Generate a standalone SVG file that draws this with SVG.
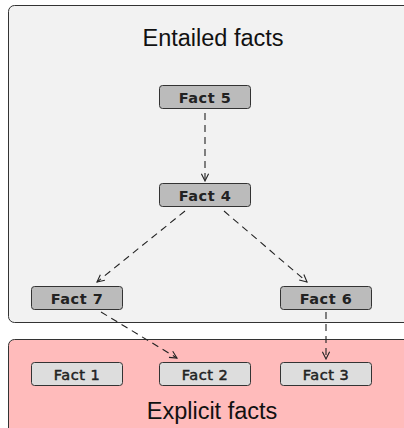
<svg xmlns="http://www.w3.org/2000/svg" width="404" height="428" viewBox="0 0 404 428">
<style>
.frame{stroke:#333;stroke-width:1}
.title{font-family:"Liberation Sans",Arial,sans-serif;font-size:23.5px;fill:#111;text-anchor:middle}
.node rect{stroke:#333;stroke-width:1}
.d rect{fill:#bbbbbb}
.l rect{fill:#dddddd}
.node text{font-family:"DejaVu Sans",sans-serif;font-size:14.5px;fill:#222;text-anchor:middle;letter-spacing:0.5px}
.d text{font-weight:bold}
.l text{font-weight:normal;stroke:#222;stroke-width:0.5px}
.edge{stroke:#222;stroke-width:1.1;stroke-dasharray:7,5;fill:none;marker-end:url(#arr)}
</style>
<defs>
<marker id="arr" viewBox="0 0 10 10" refX="9" refY="5" markerWidth="9" markerHeight="9" markerUnits="userSpaceOnUse" orient="auto">
<path d="M1,1 L9,5 L1,9" fill="none" stroke="#222" stroke-width="1.2"/>
</marker>
</defs>
<rect class="frame" x="8.5" y="5.5" width="410" height="317" rx="6" fill="#f2f2f2"/>
<rect class="frame" x="8.5" y="339.5" width="410" height="110" rx="6" fill="#ffbbbb"/>
<text class="title" x="213" y="46">Entailed facts</text>
<text class="title" x="212" y="419">Explicit facts</text>
<g id="connectors">
<line class="edge" x1="205" y1="113" x2="205" y2="181"/>
<line class="edge" x1="185" y1="211" x2="97" y2="282"/>
<line class="edge" x1="224" y1="211" x2="307" y2="282"/>
<line class="edge" x1="101" y1="312" x2="177" y2="358"/>
<line class="edge" x1="326" y1="312" x2="326" y2="359"/>
</g>
<g id="fact5" class="node d"><rect x="159.5" y="85.5" width="91" height="23" rx="3"/><text x="205" y="102.5">Fact 5</text></g>
<g id="fact4" class="node d"><rect x="159.5" y="183.5" width="91" height="23" rx="3"/><text x="205" y="200.5">Fact 4</text></g>
<g id="fact7" class="node d"><rect x="31.5" y="286.5" width="91" height="23" rx="3"/><text x="77" y="303.5">Fact 7</text></g>
<g id="fact6" class="node d"><rect x="280.5" y="286.5" width="91" height="23" rx="3"/><text x="326" y="303.5">Fact 6</text></g>
<g id="fact1" class="node l"><rect x="31.5" y="362.5" width="91" height="23" rx="3"/><text x="77" y="379.5">Fact 1</text></g>
<g id="fact2" class="node l"><rect x="159.5" y="362.5" width="91" height="23" rx="3"/><text x="205" y="379.5">Fact 2</text></g>
<g id="fact3" class="node l"><rect x="280.5" y="362.5" width="91" height="23" rx="3"/><text x="326" y="379.5">Fact 3</text></g>
</svg>
